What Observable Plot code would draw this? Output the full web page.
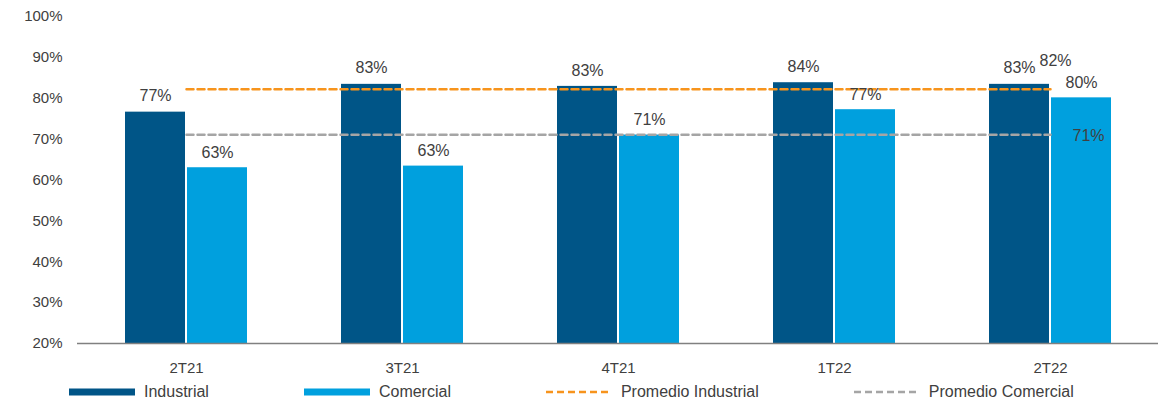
<!DOCTYPE html>
<html>
<head>
<meta charset="utf-8">
<script src="https://cdn.jsdelivr.net/npm/d3@7"></script>
<script src="https://cdn.jsdelivr.net/npm/@observablehq/plot@0.6"></script>
<style>
  html, body { margin: 0; padding: 0; background: #fff; }
  body { width: 1160px; height: 403px; overflow: hidden; font-family: "Liberation Sans", Arial, sans-serif; }
  #legend { display: flex; align-items: center; height: 24px; padding-left: 69px; font-size: 16px; color: #404040; white-space: nowrap; }
  .item { display: flex; align-items: center; margin-right: 95px; flex-shrink: 0; white-space: nowrap; }
  .item svg { margin-right: 9px; flex-shrink: 0; }
</style>
</head>
<body>
<div id="chart"></div>
<div id="legend"></div>
<script>
const periods = ["2T21", "3T21", "4T21", "1T22", "2T22"];
const industrial = [76.6, 83.4, 82.9, 83.8, 83.4];
const comercial = [63.0, 63.4, 71.0, 77.2, 80.1];
const promedioIndustrial = [82.2, 82.2, 82.2, 82.2, 82.2];
const promedioComercial = [71.1, 71.1, 71.1, 71.1, 71.1];
const yTicks = [20, 30, 40, 50, 60, 70, 80, 90, 100];
const seriesNames = ["Industrial", "Comercial", "Promedio Industrial", "Promedio Comercial"];

const colors = { ind: "#005587", com: "#00A0DE", pInd: "#F7941D", pCom: "#A5A5A5" };
const textColor = "#404040";

const rows = periods.map((p, i) => ({
  period: p,
  industrial: industrial[i],
  comercial: comercial[i],
  pInd: promedioIndustrial[i],
  pCom: promedioComercial[i]
}));
const last = rows.slice(-1);

const chart = Plot.plot({
  width: 1160,
  height: 380,
  marginLeft: 77,
  marginRight: 2,
  marginTop: 16,
  marginBottom: 37,
  style: { fontFamily: "'Liberation Sans', Arial, sans-serif", fontSize: "15px", color: textColor, background: "white" },
  x: { domain: periods, padding: 0, label: null },
  y: { domain: [20, 100], label: null },
  marks: [
    Plot.axisY({ ticks: yTicks, tickFormat: d => d + "%", tickSize: 0, tickPadding: 15, fontSize: 15, fill: textColor }),
    Plot.axisX({ tickSize: 0, tickPadding: 19, fontSize: 15, fill: textColor }),
    Plot.barY(rows, { x: "period", y1: 20, y2: "industrial", fill: colors.ind, insetLeft: 47, insetRight: 109 }),
    Plot.barY(rows, { x: "period", y1: 20, y2: "comercial", fill: colors.com, insetLeft: 109, insetRight: 47 }),
    Plot.ruleY([20], { stroke: "#808080", strokeWidth: 1.5 }),
    Plot.line(rows, { x: "period", y: "pCom", stroke: colors.pCom, strokeWidth: 2.5, strokeDasharray: "7,4" }),
    Plot.line(rows, { x: "period", y: "pInd", stroke: colors.pInd, strokeWidth: 2.5, strokeDasharray: "7,4" }),
    Plot.text(rows, { x: "period", y: "industrial", text: d => Math.round(d.industrial) + "%", dx: -31, dy: -16, fontSize: 16, fill: textColor }),
    Plot.text(rows, { x: "period", y: "comercial", text: d => Math.round(d.comercial) + "%", dx: 31, dy: -15, fontSize: 16, fill: textColor }),
    Plot.text(last, { x: "period", y: "pInd", text: d => Math.round(d.pInd) + "%", dx: 5, dy: -28, fontSize: 16, fill: textColor }),
    Plot.text(last, { x: "period", y: "pCom", text: d => Math.round(d.pCom) + "%", dx: 38, dy: 1, fontSize: 16, fill: textColor })
  ]
});
document.getElementById("chart").appendChild(chart);

// Legend
const legend = d3.select("#legend");
const swatches = [
  { type: "bar", color: colors.ind },
  { type: "bar", color: colors.com },
  { type: "dash", color: colors.pInd },
  { type: "dash", color: colors.pCom }
];
seriesNames.forEach((name, i) => {
  const it = legend.append("div").attr("class", "item");
  const s = it.append("svg").attr("width", 66).attr("height", 10);
  if (swatches[i].type === "bar") {
    s.append("rect").attr("x", 0).attr("y", 1.5).attr("width", 66).attr("height", 7).attr("fill", swatches[i].color);
  } else {
    s.append("line").attr("x1", 0).attr("x2", 66).attr("y1", 5).attr("y2", 5)
      .attr("stroke", swatches[i].color).attr("stroke-width", 2.5).attr("stroke-dasharray", "7,4");
  }
  it.append("span").text(name);
});
</script>
</body>
</html>
